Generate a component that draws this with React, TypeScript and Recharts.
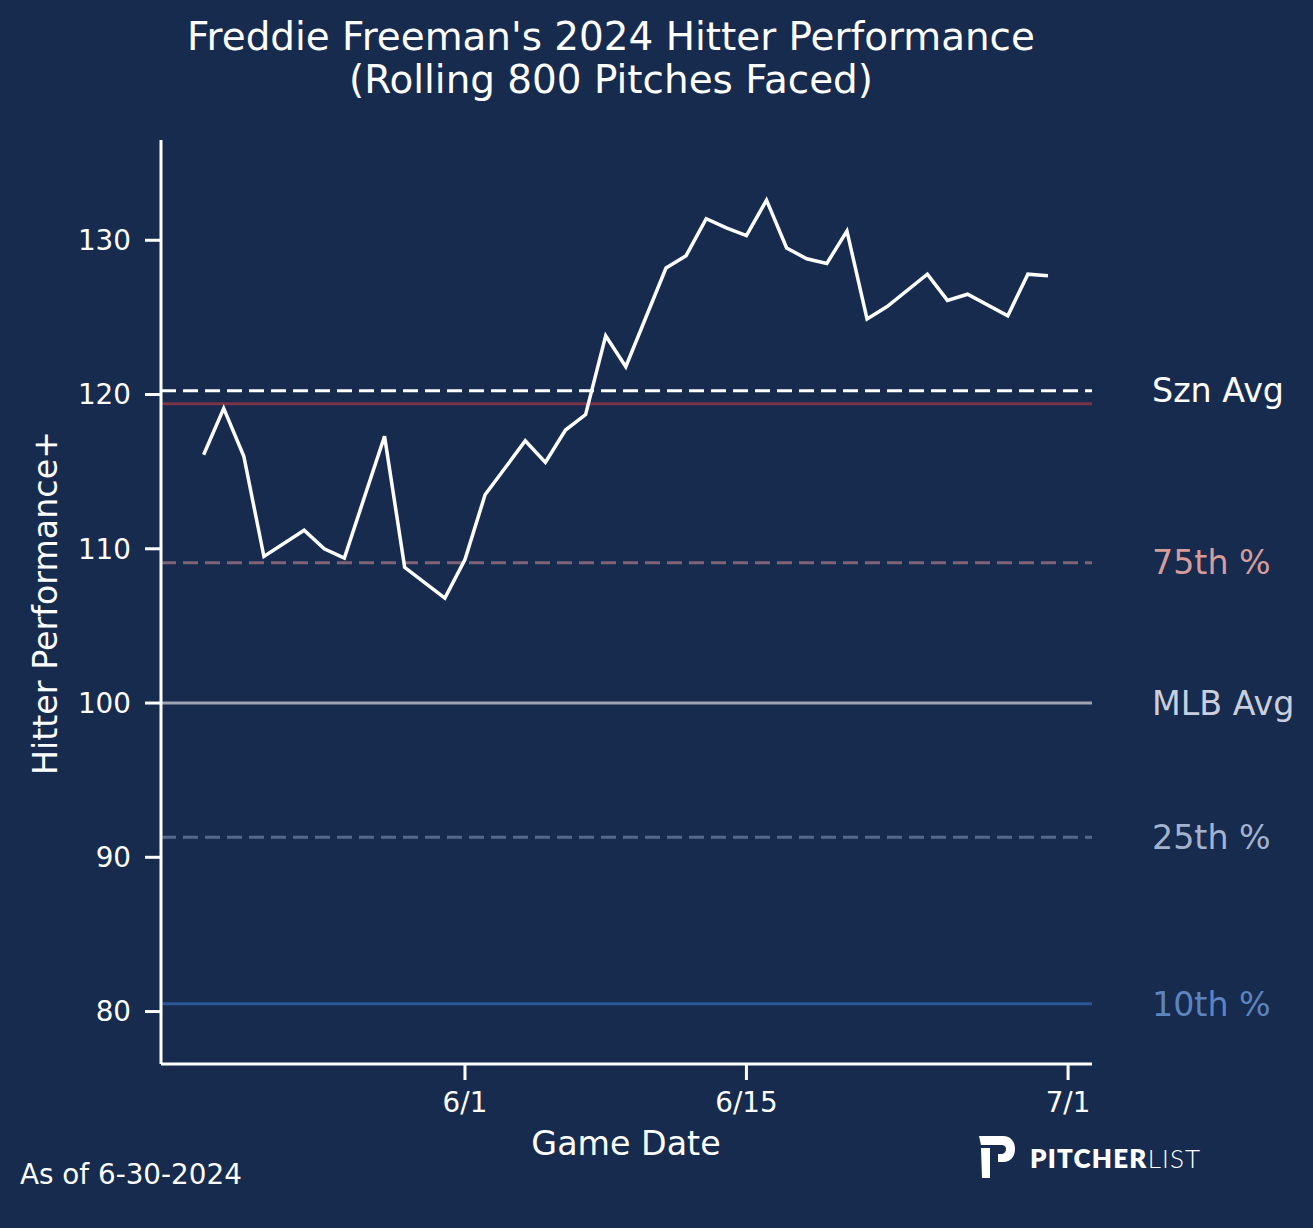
import React from "react";
import { LineChart, Line, XAxis, YAxis, ReferenceLine } from "recharts";

// rolling hitter performance+, one value per game date
const gameDates = [
  "5/19", "5/20", "5/21", "5/22", "5/24", "5/25", "5/26", "5/28", "5/29", "5/31",
  "6/1", "6/2", "6/4", "6/5", "6/6", "6/7", "6/8", "6/9", "6/11", "6/12",
  "6/13", "6/14", "6/15", "6/16", "6/17", "6/18", "6/19", "6/20", "6/21", "6/22",
  "6/24", "6/25", "6/26", "6/28", "6/29", "6/30",
];
const perfValues = [
  116.1, 119.1, 116.0, 109.5, 111.2, 110.0, 109.4, 117.3, 108.8, 106.8,
  109.3, 113.5, 117.0, 115.6, 117.7, 118.7, 123.8, 121.8, 128.2, 129.0,
  131.4, 130.8, 130.3, 132.6, 129.5, 128.8, 128.5, 130.6, 124.9, 125.7,
  127.8, 126.1, 126.5, 125.1, 127.8, 127.7,
];

const xTickLabels = ["6/1", "6/15", "7/1"];
const yTicks = [80, 90, 100, 110, 120, 130];

// benchmark lines
const refNames = ["Szn Avg", "", "75th %", "MLB Avg", "25th %", "10th %"];
const refValues = [120.25, 119.4, 109.1, 100, 91.3, 80.5];
const refLineColors = ["#ffffff", "#7a3347", "#7e6376", "#9ea4b2", "#56698c", "#2b5796"];
const refTextColors = ["#ffffff", "", "#d69c9a", "#c9cfdc", "#a3b3cd", "#5c85bf"];
const refDashed = [true, false, true, false, true, false];

const BG = "#172b4f";
const FONT = "DejaVu Sans";
const TICK_PX = 27.8;
const LABEL_PX = 33.3;

// days relative to 6/1
const dayOf = (md: string) => {
  const [m, d] = md.split("/").map(Number);
  return (Date.UTC(2024, m - 1, d) - Date.UTC(2024, 5, 1)) / 86400000;
};

const data = gameDates.map((g, i) => ({ day: dayOf(g), perf: perfValues[i] }));
const xTicks = xTickLabels.map(dayOf);

export default function App() {
  return (
    <div
      style={{
        position: "absolute",
        left: 0,
        top: 0,
        width: 1313,
        height: 1228,
        background: BG,
        fontFamily: FONT,
      }}
    >
      <LineChart
        width={1313}
        height={1228}
        data={data}
        margin={{ top: 140, right: 221, bottom: 104, left: 0 }}
        style={{ position: "absolute", left: 0, top: 0 }}
      >
        <XAxis
          type="number"
          dataKey="day"
          domain={[-15.12, 31.19]}
          allowDataOverflow
          ticks={xTicks}
          tickFormatter={(v) => xTickLabels[xTicks.indexOf(v)] ?? ""}
          height={60}
          axisLine={{ stroke: "#ffffff", strokeWidth: 3 }}
          tickSize={16}
          tickMargin={12}
          tickLine={{ stroke: "#ffffff", strokeWidth: 3 }}
          tick={{ fill: "#ffffff", fontSize: TICK_PX, fontFamily: FONT }}
        />
        <YAxis
          type="number"
          domain={[76.6, 136.5]}
          allowDataOverflow
          ticks={yTicks}
          width={161}
          axisLine={{ stroke: "#ffffff", strokeWidth: 3 }}
          tickSize={16}
          tickMargin={14}
          tickLine={{ stroke: "#ffffff", strokeWidth: 3 }}
          tick={{ fill: "#ffffff", fontSize: TICK_PX, fontFamily: FONT }}
        />
        {refValues.map((v, i) => (
          <ReferenceLine
            key={`ref-${i}`}
            y={v}
            stroke={refLineColors[i]}
            strokeWidth={3}
            strokeDasharray={refDashed[i] ? "15 7" : undefined}
            label={
              refNames[i]
                ? {
                    value: refNames[i],
                    position: "right",
                    offset: 60,
                    fill: refTextColors[i],
                    fontSize: LABEL_PX,
                    fontFamily: FONT,
                  }
                : undefined
            }
          />
        ))}
        <Line
          type="linear"
          dataKey="perf"
          stroke="#ffffff"
          strokeWidth={3.5}
          dot={false}
          activeDot={false}
          isAnimationActive={false}
        />
      </LineChart>

      <svg
        width={1313}
        height={1228}
        style={{ position: "absolute", left: 0, top: 0, pointerEvents: "none" }}
      >
        <text x={611} y={50} textAnchor="middle" fill="#ffffff" fontSize={38.9} fontFamily={FONT}>
          Freddie Freeman's 2024 Hitter Performance
        </text>
        <text x={611} y={93} textAnchor="middle" fill="#ffffff" fontSize={38.9} fontFamily={FONT}>
          (Rolling 800 Pitches Faced)
        </text>
        <text x={626} y={1155} textAnchor="middle" fill="#ffffff" fontSize={LABEL_PX} fontFamily={FONT}>
          Game Date
        </text>
        <text
          x={57}
          y={603}
          textAnchor="middle"
          fill="#ffffff"
          fontSize={LABEL_PX}
          fontFamily={FONT}
          transform="rotate(-90, 57, 603)"
        >
          Hitter Performance+
        </text>
        <text x={20} y={1184} fill="#ffffff" fontSize={TICK_PX} fontFamily={FONT}>
          As of 6-30-2024
        </text>
        {/* pitcher list logo */}
        <path
          fill="#ffffff"
          d="M979 1136 L1003 1136 C1011 1136 1015 1142 1015 1149 C1015 1156 1011 1162 1003 1162 L998 1162 L998 1154 L1001 1154 C1004 1154 1006 1152 1006 1149 C1006 1146 1004 1145 1001 1145 L981 1145 Z"
        />
        <path fill="#ffffff" d="M981 1148 L990 1148 L990 1178 L982 1178 Z" />
        <text x={1030} y={1168} fill="#ffffff" fontSize={26} fontFamily="Lato" letterSpacing={1.2}>
          <tspan fontWeight={800}>PITCHER</tspan>
          <tspan fontWeight={300}>LIST</tspan>
        </text>
      </svg>
    </div>
  );
}
